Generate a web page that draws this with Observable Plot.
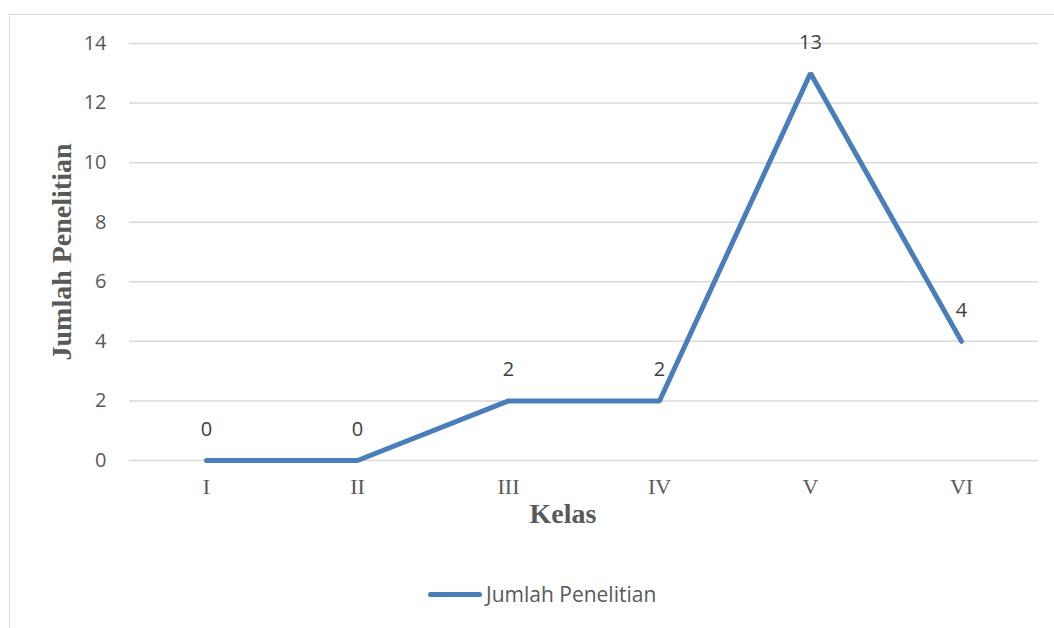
<!DOCTYPE html>
<html>
<head>
<meta charset="utf-8">
<script src="https://cdn.jsdelivr.net/npm/d3@7"></script>
<script src="https://cdn.jsdelivr.net/npm/@observablehq/plot@0.6"></script>
<style>
  html, body { margin: 0; padding: 0; background: #fff; width: 1054px; height: 628px; overflow: hidden; }
  #frame { position: absolute; left: 9px; top: 14px; width: 1060px; height: 640px; border-left: 1.5px solid #d9d9d9; border-top: 1.5px solid #d9d9d9; }
  #chart { position: absolute; left: 0; top: 0; }
  #legend { position: absolute; left: 428px; top: 580px; font-family: "Open Sans", sans-serif; font-size: 21px; color: #595959; display: flex; align-items: center; }
  #legend .sw { width: 54px; height: 5px; border-radius: 3px; background: #4a7ebb; margin-right: 4px; }
</style>
</head>
<body>
<div id="frame"></div>
<div id="chart"></div>
<div id="legend"><div class="sw"></div><span>Jumlah Penelitian</span></div>
<script>
const categories = ["I", "II", "III", "IV", "V", "VI"];
const values = [0, 0, 2, 2, 13, 4];
const yTicks = [0, 2, 4, 6, 8, 10, 12, 14];
const seriesName = "Jumlah Penelitian";
const xTitle = "Kelas";
const yTitle = "Jumlah Penelitian";

const data = categories.map((c, i) => ({kelas: c, value: values[i]}));

const chart = Plot.plot({
  width: 1054,
  height: 560,
  marginLeft: 129,
  marginRight: 16,
  marginTop: 43,
  marginBottom: 100,
  style: {background: "transparent", overflow: "visible"},
  x: {type: "point", domain: categories, padding: 0.5},
  y: {domain: [0, 14]},
  marks: [
    Plot.ruleY(yTicks, {stroke: "#d9d9d9", strokeWidth: 1.5}),
    Plot.axisY({ticks: yTicks, tickSize: 0, tickPadding: 23, label: null, fontSize: 20, fontFamily: "'Open Sans', sans-serif", color: "#595959"}),
    Plot.axisX({tickSize: 0, tickPadding: 18, label: null, fontSize: 22, fontFamily: "'Liberation Serif', serif", color: "#595959"}),
    Plot.line(data, {x: "kelas", y: "value", stroke: "#4a7ebb", strokeWidth: 5, strokeLinecap: "round", strokeLinejoin: "miter"}),
    Plot.text(data, {x: "kelas", y: "value", text: d => String(d.value), dy: -31, fontSize: 20, fontFamily: "'Open Sans', sans-serif", fill: "#404040"}),
    Plot.text([xTitle], {frameAnchor: "bottom", textAnchor: "middle", text: d => d, dx: -21, dy: 62, fontSize: 28, fontWeight: "bold", fontFamily: "'Liberation Serif', serif", fill: "#595959"}),
    Plot.text([yTitle], {frameAnchor: "left", textAnchor: "middle", text: d => d, rotate: -90, dx: -67, fontSize: 28, fontWeight: "bold", fontFamily: "'Liberation Serif', serif", fill: "#595959"})
  ]
});
document.getElementById("chart").appendChild(chart);
</script>
</body>
</html>
